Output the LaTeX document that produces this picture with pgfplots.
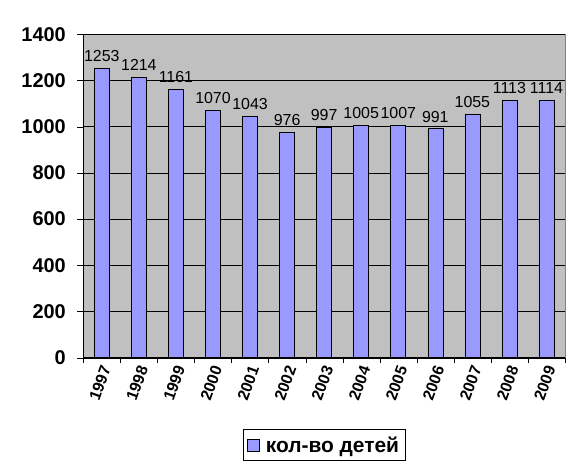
\documentclass[border=0pt]{standalone}
\usepackage{pgfplots}
\pgfplotsset{compat=1.18}
\usepackage{fontspec}
\setmainfont{Liberation Sans}

\definecolor{plotbg}{RGB}{192,192,192}
\definecolor{barfill}{RGB}{153,153,255}
\definecolor{frame}{RGB}{128,128,128}

\begin{document}
\begin{tikzpicture}
  \path[use as bounding box] (0,0) rectangle (582bp,472bp);
  \begin{axis}[
    at={(83.3bp,114.3bp)}, anchor=south west,
    scale only axis, width=481.7bp, height=323.4bp,
    ybar, bar width=15bp,
    xmin=-0.5, xmax=12.5, ymin=0, ymax=1400,
    ytick={0,200,...,1400},
    xtick={0,...,12},
    xticklabels={1997,1998,1999,2000,2001,2002,2003,2004,2005,2006,2007,2008,2009},
    minor xtick={-0.5,0.5,...,12.5},
    axis x line*=bottom, axis y line*=left,
    axis line style={-, black},
    axis background/.style={fill=plotbg, draw=frame},
    tick align=outside,
    x tick style={draw=none},
    minor x tick style={draw=black},
    minor tick length=5bp,
    y tick style={black},
    major tick length=6bp,
    ymajorgrids, grid style={black, line width=0.6pt},
    /pgf/number format/assume math mode=true,
    /pgf/number format/1000 sep={},
    yticklabel style={font=\fontsize{20}{24}\selectfont\bfseries, xshift=-8bp},
    xticklabel style={font=\fontsize{16}{19}\selectfont\bfseries, rotate=70, anchor=east, yshift=-5bp, inner sep=1bp},
    nodes near coords,
    every node near coord/.append style={font=\fontsize{16}{19}\selectfont, black, yshift=3bp},
    legend style={at={(0.5,-0.27)}, anchor=center, draw=black, fill=white,
      font=\fontsize{21}{25}\selectfont\bfseries, inner xsep=4bp, inner ysep=5bp,
      column sep=4bp},
    legend image code/.code={\draw[#1, draw=black] (0bp,-6bp) rectangle (12bp,6bp);},
  ]
    \addplot[fill=barfill, draw=black, line width=0.6pt] coordinates {
      (0,1253) (1,1214) (2,1161) (3,1070) (4,1043) (5,976) (6,997)
      (7,1005) (8,1007) (9,991) (10,1055) (11,1113) (12,1114)};
    \addlegendentry{кол-во детей}
  \end{axis}
\end{tikzpicture}
\end{document}
